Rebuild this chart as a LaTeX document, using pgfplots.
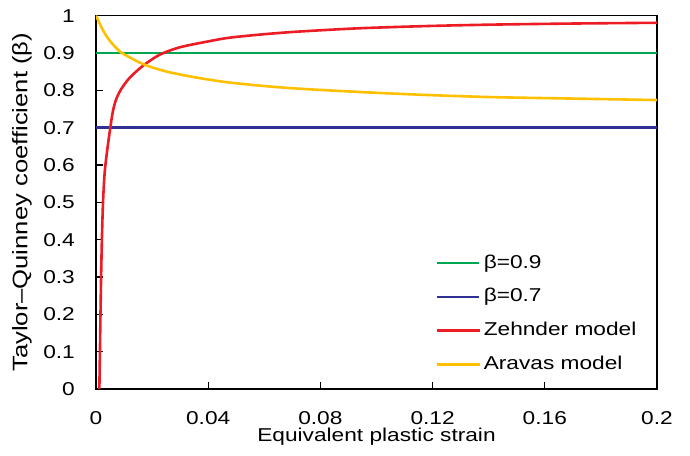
\documentclass[border=0pt]{standalone}
\usepackage{fontspec}
\setmainfont{Liberation Sans}[FakeStretch=1.22]
\usepackage{pgfplots}
\pgfplotsset{compat=1.18}
\definecolor{cgreen}{RGB}{0,166,80}
\definecolor{cblue}{RGB}{46,49,146}
\definecolor{cred}{RGB}{237,28,36}
\definecolor{cyellow}{RGB}{255,192,0}
\begin{document}
\begin{tikzpicture}
\useasboundingbox (-96bp,-67bp) rectangle (594bp,389bp);
\begin{axis}[
  at={(0,0)}, anchor=south west,
  scale only axis, width=561bp, height=373.3bp,
  xmin=0, xmax=0.2, ymin=0, ymax=1,
  xtick={0,0.04,0.08,0.12,0.16,0.2},
  xticklabels={0,0.04,0.08,0.12,0.16,0.2},
  ytick={0,0.1,0.2,0.3,0.4,0.5,0.6,0.7,0.8,0.9,1},
  yticklabels={0,0.1,0.2,0.3,0.4,0.5,0.6,0.7,0.8,0.9,1},
  tick align=inside, tick pos=left,
  major tick length=7bp,
  axis line style={line width=1.4bp, black},
  major tick style={line width=1.2bp, black},
  font=\fontsize{18.6bp}{22bp}\selectfont,
  /pgf/number format/assume math mode=true,
  xticklabel style={inner sep=0pt, anchor=north, yshift=-22.7bp},
  yticklabel style={inner sep=0pt, anchor=east, xshift=-21bp},
  xlabel={Equivalent plastic strain},
  ylabel={Taylor–Quinney coefficient (β)},
  xlabel style={at={(axis description cs:0.5,0)}, anchor=north, inner sep=0pt, yshift=-39bp},
  ylabel style={at={(axis description cs:0,0.5)}, anchor=south, inner sep=0pt, yshift=64bp,
    font=\fontsize{21bp}{24bp}\selectfont},
  legend style={at={(0.606,0.383)}, anchor=north west, draw=none, fill=none,
    inner sep=0pt, row sep=0pt,
    nodes={inner ysep=7.9bp, inner xsep=3bp, text height=14bp, text depth=4bp}},
  legend cell align=left,
  legend image code/.code={\draw[#1] plot coordinates {(0bp,0bp) (21bp,0bp) (42bp,0bp)};},
]
\addplot[cgreen, line width=2.6bp] coordinates {(0,0.9) (0.2,0.9)};
\addlegendentry{β=0.9}
\addplot[cblue, line width=2.6bp] coordinates {(0,0.7) (0.2,0.7)};
\addlegendentry{β=0.7}
\addplot[cred, line width=2.6bp, smooth] coordinates {
(0.00120,0) (0.00140,0.1) (0.00160,0.2) (0.00182,0.3) (0.00210,0.4)
(0.00250,0.5) (0.00310,0.58) (0.00400,0.64) (0.00510,0.70) (0.00600,0.743)
(0.00710,0.774) (0.00880,0.801) (0.01180,0.832) (0.01660,0.865) (0.02260,0.895)
(0.02970,0.915) (0.03920,0.930) (0.0475,0.941) (0.0594,0.950) (0.0713,0.957)
(0.0929,0.966) (0.1167,0.972) (0.1405,0.976) (0.17,0.979) (0.2,0.981)};
\addlegendentry{Zehnder model}
\addplot[cyellow, line width=2.6bp, smooth] coordinates {
(0,1.0) (0.001,0.984) (0.002,0.968) (0.0035,0.948) (0.0047,0.935) (0.007,0.915)
(0.0095,0.899) (0.0166,0.871) (0.0238,0.853) (0.0309,0.841) (0.0392,0.830)
(0.0475,0.821) (0.0594,0.812) (0.0713,0.805) (0.0929,0.796) (0.1167,0.788)
(0.1405,0.782) (0.17,0.778) (0.2,0.774)};
\addlegendentry{Aravas model}
\end{axis}
\end{tikzpicture}
\end{document}
